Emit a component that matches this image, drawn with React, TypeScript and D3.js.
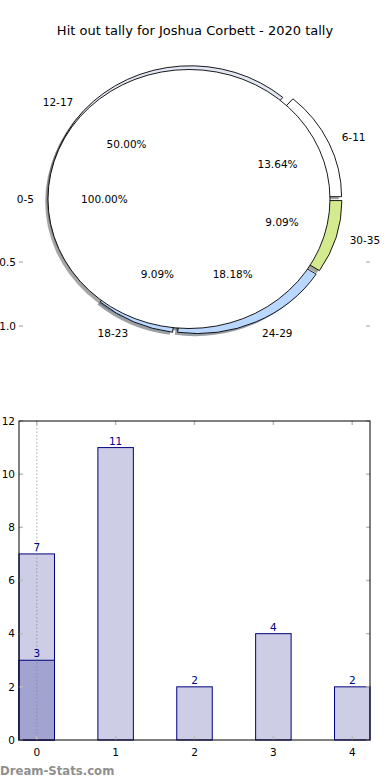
import React from "react";
import * as d3 from "d3";

const title = "Hit out tally for Joshua Corbett - 2020 tally";

// outer pie (age groups) and the single full inner slice
const ageGroups = ["6-11", "12-17", "18-23", "24-29", "30-35"];
const ageCounts = [3, 11, 2, 4, 2];
const ageColors = ["#ffffff", "#e2e7f3", "#b9d7ff", "#b9d7ff", "#d3ea8e"];
const innerGroups = ["0-5"];
const innerCounts = [1];
const innerColors = ["#ffffff"];
const pieAxisTicks = [0.5, 1.0];

// bar chart
const barX = [0, 1, 2, 3, 4];
const barValues = [7, 11, 2, 4, 2];
const overlayX = [0];
const overlayValues = [3];
const yTicks = [0, 2, 4, 6, 8, 10, 12];

const font = "DejaVu Sans, sans-serif";

const W = 390;
const H = 780;

// pie geometry (elliptical because the axes aren't equal aspect)
const rx = 141;
const ry = 129.5;
const explode = 0.043;
const cx = 189 + explode * rx;
const cy = 199;

const pieGen = d3
  .pie<number>()
  .sort(null)
  .startAngle(Math.PI / 2)
  .endAngle(Math.PI / 2 - 2 * Math.PI);
const arcGen = d3.arc<any>().innerRadius(0).outerRadius(1);

function shade(c: string) {
  const col = d3.rgb(c);
  return d3.rgb(col.r * 0.3, col.g * 0.3, col.b * 0.3).toString();
}

function wedges(values: number[], labels: string[], colors: string[]) {
  const total = d3.sum(values);
  return pieGen(values).map((d, i) => {
    const m = (d.startAngle + d.endAngle) / 2;
    const ox = cx + explode * rx * Math.sin(m);
    const oy = cy - explode * ry * Math.cos(m);
    return {
      path: arcGen(d) as string,
      ox,
      oy,
      m,
      label: labels[i],
      color: colors[i],
      pct: ((values[i] / total) * 100).toFixed(2) + "%",
    };
  });
}

const outer = wedges(ageCounts, ageGroups, ageColors);
const inner = wedges(innerCounts, innerGroups, innerColors);
const allWedges = [...outer, ...inner];

export default function App() {
  const x = d3.scaleLinear().domain([-0.225, 4.225]).range([19, 370]);
  const y = d3.scaleLinear().domain([0, 12]).range([740, 421]);
  const yPie = d3.scaleLinear().domain([0, 1]).range([198, 326]);
  const half = 0.225;

  return (
    <svg
      width={W}
      height={H}
      style={{ position: "absolute", left: 0, top: 0, background: "#fff" }}
      fontFamily={font}
    >
      <rect width={W} height={H} fill="#fff" />
      <text x={195} y={35} textAnchor="middle" fontSize={13} fill="#000">
        {title}
      </text>

      {/* leftover axis ticks of the pie panel */}
      {pieAxisTicks.map((t) => (
        <g key={t}>
          <text x={16} y={yPie(t)} dy="0.35em" textAnchor="end" fontSize={10.5}>
            {t.toFixed(1)}
          </text>
          <line x1={19} x2={23} y1={yPie(t)} y2={yPie(t)} stroke="#bdbdbd" strokeWidth={1.5} />
          <line x1={366} x2={370} y1={yPie(t)} y2={yPie(t)} stroke="#bdbdbd" strokeWidth={1.5} />
        </g>
      ))}

      {/* shadows */}
      {allWedges.map((w, i) => (
        <path
          key={"s" + i}
          d={w.path}
          transform={`translate(${w.ox - 0.02 * rx},${w.oy + 0.02 * ry}) scale(${rx},${ry})`}
          fill={shade(w.color)}
          fillOpacity={0.5}
        />
      ))}
      {/* wedges */}
      {allWedges.map((w, i) => (
        <path
          key={"w" + i}
          d={w.path}
          transform={`translate(${w.ox},${w.oy}) scale(${rx},${ry})`}
          fill={w.color}
          stroke="#000"
          strokeWidth={0.9}
          vectorEffect="non-scaling-stroke"
          strokeLinejoin="round"
        />
      ))}
      {/* labels */}
      {allWedges.map((w, i) => {
        const lx = w.ox + 1.1 * rx * Math.sin(w.m);
        const ly = w.oy - 1.1 * ry * Math.cos(w.m);
        const px = w.ox + 0.6 * rx * Math.sin(w.m);
        const py = w.oy - 0.6 * ry * Math.cos(w.m);
        return (
          <g key={"l" + i} fontSize={10.5}>
            <text x={lx} y={ly} dy="0.35em" textAnchor={lx > cx ? "start" : "end"}>
              {w.label}
            </text>
            <text x={px} y={py} dy="0.35em" textAnchor="middle">
              {w.pct}
            </text>
          </g>
        );
      })}

      {/* bar chart */}
      {barX.map((b, i) => (
        <rect
          key={"b" + i}
          x={x(b - half)}
          y={y(barValues[i])}
          width={x(b + half) - x(b - half)}
          height={y(0) - y(barValues[i])}
          fill="#cdcde5"
          stroke="#000080"
          strokeWidth={1}
        />
      ))}
      {overlayX.map((b, i) => (
        <rect
          key={"o" + i}
          x={x(b - half)}
          y={y(overlayValues[i])}
          width={x(b + half) - x(b - half)}
          height={y(0) - y(overlayValues[i])}
          fill="#a3a3d1"
          stroke="#000080"
          strokeWidth={1}
        />
      ))}
      <line
        x1={x(0)}
        x2={x(0)}
        y1={y(12)}
        y2={y(0)}
        stroke="#808080"
        strokeOpacity={0.45}
        strokeWidth={1.5}
        strokeDasharray="1.5,2"
      />
      {barX.map((b, i) => (
        <text
          key={"bl" + i}
          x={x(b)}
          y={y(barValues[i]) - 3}
          textAnchor="middle"
          fontSize={10.5}
          fill="#00008b"
        >
          {barValues[i]}
        </text>
      ))}
      {overlayX.map((b, i) => (
        <text
          key={"ol" + i}
          x={x(b)}
          y={y(overlayValues[i]) - 3}
          textAnchor="middle"
          fontSize={10.5}
          fill="#00008b"
        >
          {overlayValues[i]}
        </text>
      ))}

      {/* ticks */}
      {yTicks.map((t) => (
        <g key={"yt" + t}>
          <line x1={19} x2={23} y1={y(t)} y2={y(t)} stroke="#bdbdbd" strokeWidth={1.5} />
          <line x1={366} x2={370} y1={y(t)} y2={y(t)} stroke="#bdbdbd" strokeWidth={1.5} />
          <text x={15} y={y(t)} dy="0.35em" textAnchor="end" fontSize={10.5}>
            {t}
          </text>
        </g>
      ))}
      {barX.map((t) => (
        <g key={"xt" + t}>
          <line x1={x(t)} x2={x(t)} y1={740} y2={736} stroke="#bdbdbd" strokeWidth={1.5} />
          <line x1={x(t)} x2={x(t)} y1={421} y2={425} stroke="#bdbdbd" strokeWidth={1.5} />
          <text x={x(t)} y={752} dy="0.35em" textAnchor="middle" fontSize={10.5}>
            {t}
          </text>
        </g>
      ))}
      <rect x={19} y={421} width={351} height={319} fill="none" stroke="#000" strokeWidth={1} />

      <text x={0} y={775} fontSize={11.7} fill="#8f8f8f" fontWeight={600}>
        Dream-Stats.com
      </text>
    </svg>
  );
}
